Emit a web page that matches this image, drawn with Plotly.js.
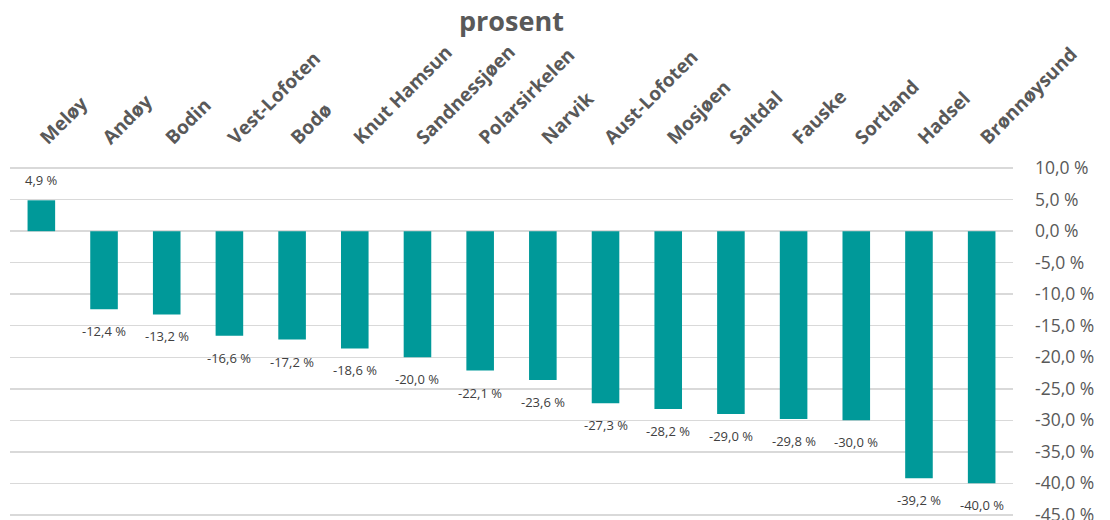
<!DOCTYPE html>
<html>
<head>
<meta charset="utf-8">
<script src="https://cdn.plot.ly/plotly-3.0.1.min.js"></script>
<style>html,body{margin:0;padding:0;background:#fff;}#chart{width:1110px;height:520px;}</style>
</head>
<body>
<div id="chart"></div>
<script>
const categories = ["Meløy","Andøy","Bodin","Vest-Lofoten","Bodø","Knut Hamsun","Sandnessjøen","Polarsirkelen","Narvik","Aust-Lofoten","Mosjøen","Saltdal","Fauske","Sortland","Hadsel","Brønnøysund"];
const values = [4.9,-12.4,-13.2,-16.6,-17.2,-18.6,-20.0,-22.1,-23.6,-27.3,-28.2,-29.0,-29.8,-30.0,-39.2,-40.0];
const tickValues = [10,5,0,-5,-10,-15,-20,-25,-30,-35,-40,-45];
const tickLabels = ["10,0 %","5,0 %","0,0 %","-5,0 %","-10,0 %","-15,0 %","-20,0 %","-25,0 %","-30,0 %","-35,0 %","-40,0 %","-45,0 %"];

const fmt = v => v.toFixed(1).replace('.', ',') + ' %';
const gray = '#595959';

const trace = {
  type: 'bar',
  x: categories,
  y: values,
  marker: {color: '#009999'},
  width: 0.44,
  hoverinfo: 'none'
};

const annotations = categories.map((c, i) => ({
  x: c, y: values[i], xref: 'x', yref: 'y',
  text: fmt(values[i]), showarrow: false,
  yanchor: 'middle', yshift: values[i] >= 0 ? 20 : -22,
  font: {family: 'Open Sans', size: 13, color: '#404040'}
}));
annotations.push({
  xref: 'paper', yref: 'paper', x: 0.5, y: 1, yanchor: 'bottom', yshift: 124,
  text: '<b>prosent</b>', showarrow: false,
  font: {family: 'Open Sans', size: 27, color: gray}
});

const layout = {
  width: 1110, height: 520,
  margin: {l: 10, r: 97, t: 164.85, b: 2.35},
  paper_bgcolor: '#fff', plot_bgcolor: '#fff',
  showlegend: false,
  xaxis: {
    side: 'top', tickangle: -45, type: 'category',
    tickfont: {family: 'Open Sans', size: 19, color: gray, weight: 'bold'},
    showgrid: false, zeroline: false, showline: false, ticks: '',
    ticklabelstandoff: 12
  },
  yaxis: {
    side: 'right', range: [-45.5, 10.5], autorange: false,
    tickvals: tickValues, ticktext: tickLabels,
    tickfont: {family: 'Open Sans', size: 17.5, color: gray},
    showgrid: true, gridcolor: '#d9d9d9', gridwidth: 1.5,
    zeroline: true, zerolinecolor: '#d9d9d9', zerolinewidth: 1.5,
    showline: false, ticks: '', ticklabelstandoff: 21,
    ticklabeloverflow: 'allow'
  },
  annotations: annotations
};

Plotly.newPlot('chart', [trace], layout, {displayModeBar: false, staticPlot: true});
</script>
</body>
</html>
